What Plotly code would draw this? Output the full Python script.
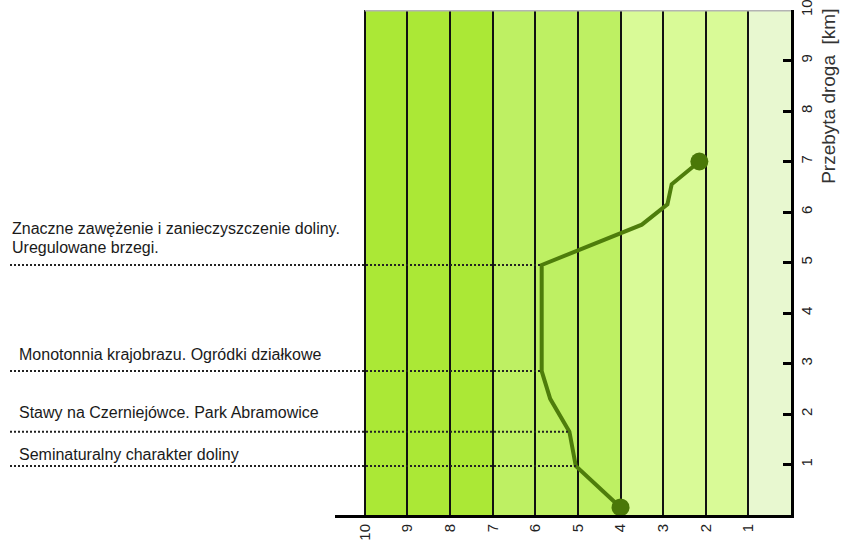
import plotly.graph_objects as go

# ---- data ----
route_pos = [4.0, 5.05, 5.2, 5.65, 5.85, 5.85, 3.5, 2.9, 2.8, 2.15]      # horizontal scale value
route_km = [0.15, 0.97, 1.65, 2.3, 2.85, 4.95, 5.75, 6.15, 6.55, 7.0]    # distance travelled [km]

band_from = [10, 7, 4, 1]
band_to = [7, 4, 1, 0]
band_colors = ["#abe836", "#bef063", "#d9fa97", "#e8f8d0"]

x_tick_vals = [10, 9, 8, 7, 6, 5, 4, 3, 2, 1]
y_tick_vals = [1, 2, 3, 4, 5, 6, 7, 8, 9, 10]

note_lines = [
    ["Znaczne zawężenie i zanieczyszczenie doliny.", "Uregulowane brzegi."],
    ["Monotonnia krajobrazu. Ogródki działkowe"],
    ["Stawy na Czerniejówce. Park Abramowice"],
    ["Seminaturalny charakter doliny"],
]
note_km = [4.95, 2.85, 1.65, 0.97]          # level of dotted leader line
note_end = [5.85, 5.85, 5.2, 5.05]          # where leader meets the route line

X_MAX = 10.7
W, H = 853, 540
PLOT_L, PLOT_R = 335, 791
PLOT_T, PLOT_B = 10, 515
PW = PLOT_R - PLOT_L
PH = PLOT_B - PLOT_T
FONT = "Liberation Sans, Arial, sans-serif"


def px_to_paper(px):
    return (px - PLOT_L) / PW


def data_to_paper(v):
    return (X_MAX - v) / X_MAX


fig = go.Figure()

fig.add_trace(go.Scatter(
    x=route_pos, y=route_km, mode="lines",
    line=dict(color="#4e7d0b", width=4),
    hoverinfo="skip", showlegend=False,
))
fig.add_trace(go.Scatter(
    x=[route_pos[0], route_pos[-1]], y=[route_km[0], route_km[-1]], mode="markers",
    marker=dict(color="#4a7808", size=18),
    cliponaxis=False, hoverinfo="skip", showlegend=False,
))

shapes = []
for a, b, c in zip(band_from, band_to, band_colors):
    shapes.append(dict(type="rect", xref="x", yref="y", x0=a, x1=b, y0=0, y1=10,
                       fillcolor=c, line=dict(width=0), layer="below"))
# top grey border
shapes.append(dict(type="line", xref="x", yref="y", x0=10, x1=0, y0=10, y1=10,
                   line=dict(color="#b4b4b4", width=3), layer="above"))
# dotted leader lines
for yk, xe in zip(note_km, note_end):
    shapes.append(dict(type="line", xref="paper", yref="y",
                       x0=px_to_paper(10), x1=data_to_paper(xe), y0=yk, y1=yk,
                       line=dict(color="#222222", width=2, dash="2px,2px"), layer="above"))

annotations = []
note_dy_px = [18, 17, 19, 12]     # last text line centre above leader, px
note_x = [10, 17, 17, 17]
LINE_PX = 19
km_per_px = 10 / PH
for lines, yk, dpx, nx in zip(note_lines, note_km, note_dy_px, note_x):
    n = len(lines)
    for j, t in enumerate(lines):
        off = dpx + (n - 1 - j) * LINE_PX
        annotations.append(dict(text=t, xref="paper", yref="y", x=px_to_paper(nx),
                                y=yk + off * km_per_px,
                                xanchor="left", yanchor="middle", align="left", showarrow=False,
                                font=dict(family=FONT, size=16, color="#1a1a1a")))
annotations.append(dict(text="Przebyta droga\u00a0 [km]", xref="paper", yref="y",
                        x=px_to_paper(829), y=8.28, textangle=-90, showarrow=False,
                        xanchor="center", yanchor="middle",
                        font=dict(family=FONT, size=19, color="#333333")))

fig.update_layout(
    width=W, height=H,
    margin=dict(l=PLOT_L, r=W - PLOT_R, t=PLOT_T, b=H - PLOT_B, pad=0),
    paper_bgcolor="white", plot_bgcolor="white",
    shapes=shapes, annotations=annotations,
    xaxis=dict(range=[X_MAX, 0], tickvals=x_tick_vals, ticktext=[str(v) for v in x_tick_vals],
               tickangle=-90, showgrid=True, gridcolor="#111111", gridwidth=2,
               zeroline=False, showline=True, linecolor="black", linewidth=3,
               ticks="", ticklabeloverflow="allow", automargin=False,
               tickfont=dict(family=FONT, size=15, color="#222222")),
    yaxis=dict(range=[0, 10], side="right", tickvals=y_tick_vals,
               ticktext=[str(v) for v in y_tick_vals], tickangle=-90,
               showgrid=False, zeroline=False, showline=True, linecolor="black", linewidth=3,
               ticks="inside", ticklen=8, tickwidth=3, tickcolor="black",
               ticklabeloverflow="allow", automargin=False,
               tickfont=dict(family=FONT, size=15, color="#222222")),
)

fig.write_html("out.html", config={"displayModeBar": False},
               post_script="document.body.style.margin='0';")
